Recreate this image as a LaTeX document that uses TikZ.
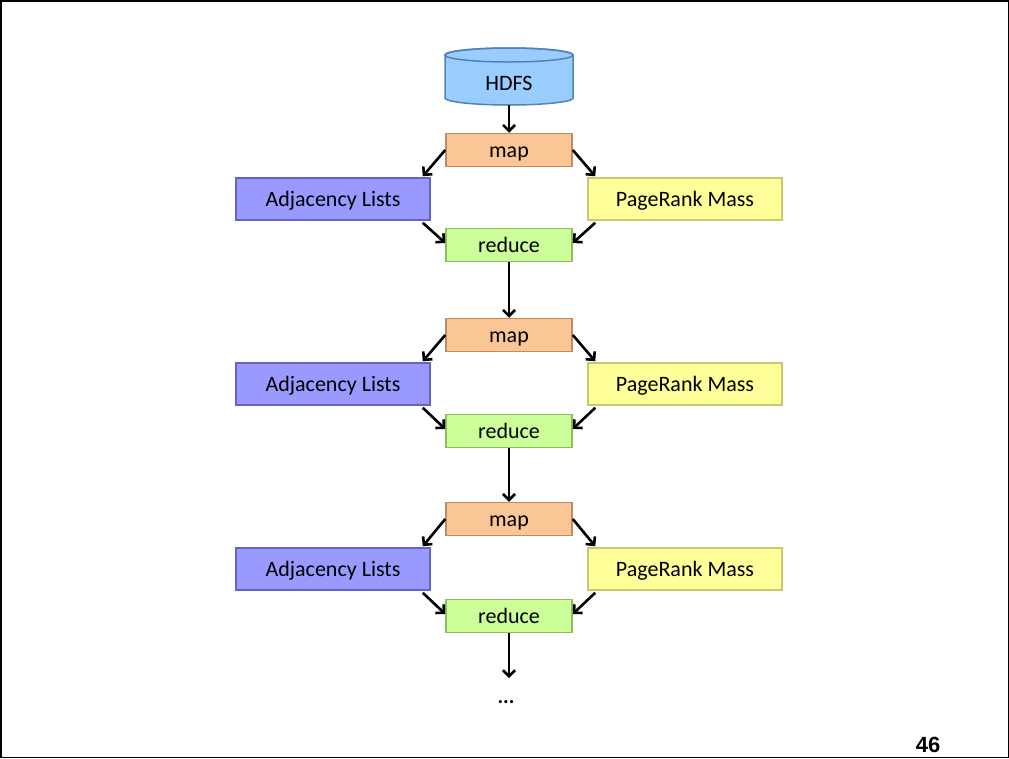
\documentclass[tikz,border=0pt]{standalone}
\usepackage{fontspec}
\setmainfont{Carlito}
\newfontfamily\numfont{Liberation Sans}
\usetikzlibrary{arrows.meta}
\definecolor{hdfsfill}{RGB}{153,204,255}
\definecolor{hdfsline}{RGB}{84,130,180}
\definecolor{mapfill}{RGB}{250,198,150}
\definecolor{mapline}{RGB}{190,140,100}
\definecolor{adjfill}{RGB}{153,153,255}
\definecolor{adjline}{RGB}{100,100,200}
\definecolor{prfill}{RGB}{255,255,153}
\definecolor{prline}{RGB}{200,200,110}
\definecolor{redfill}{RGB}{204,255,153}
\definecolor{redline}{RGB}{140,190,90}
\tikzset{
  label text/.style={font=\fontsize{22}{26}\selectfont, text height=14pt, text depth=0pt},
  box/.style={draw, line width=1.5pt, inner sep=0pt, label text},
  mapbox/.style={box, fill=mapfill, draw=mapline, minimum width=126pt, minimum height=33pt},
  redbox/.style={box, fill=redfill, draw=redline, minimum width=126pt, minimum height=33pt},
  adjbox/.style={box, fill=adjfill, draw=adjline, minimum width=194pt, minimum height=42pt},
  prbox/.style={box, fill=prfill, draw=prline, minimum width=194pt, minimum height=42pt},
  flow/.style={line width=2.6pt, -{Straight Barb[length=6pt,width=12pt,line width=2.6pt]}}
}
\begin{document}
\begin{tikzpicture}[x=1pt,y=-1pt]
\useasboundingbox (0,0) rectangle (1009,758);
\draw[line width=1.5pt] (0.75,0.75) rectangle (1008.25,757.25);

% HDFS cylinder
\filldraw[fill=hdfsfill, draw=hdfsline, line width=1.5pt]
  (445,55) -- (445,98) arc[start angle=180, end angle=0, x radius=64, y radius=7]
  -- (573,55) arc[start angle=0, end angle=-180, x radius=64, y radius=7] -- cycle;
\draw[hdfsline, line width=1.5pt] (509,55) ellipse[x radius=64, y radius=7];
\node[inner sep=0pt, minimum width=128pt, minimum height=44pt, label text]
  (hdfs) at (509,83) {HDFS};

% three map/reduce iterations
\foreach \i/\m/\s/\r in {1/150/199/245, 2/335/384/431, 3/519/569/616} {
  \node[mapbox] (map\i) at (509,\m) {map};
  \node[adjbox] (adj\i) at (333,\s) {Adjacency Lists};
  \node[prbox] (pr\i) at (685,\s) {PageRank Mass};
  \node[redbox] (red\i) at (509,\r) {reduce};
  \draw[flow] (map\i.west) -- ([xshift=-8pt,yshift=1pt]adj\i.north east);
  \draw[flow] (map\i.east) -- ([xshift=8pt,yshift=1pt]pr\i.north west);
  \draw[flow] ([xshift=-8pt,yshift=-2pt]adj\i.south east) -- ([yshift=2pt]red\i.west);
  \draw[flow] ([xshift=8pt,yshift=-2pt]pr\i.south west) -- ([yshift=2pt]red\i.east);
}

\coordinate (next) at (509,678);
\node[font=\fontsize{21}{24}\selectfont\bfseries, inner sep=0pt] (more) at (506,702) {...};

\draw[flow] (hdfs.south) -- (map1.north);
\draw[flow] (red1.south) -- (map2.north);
\draw[flow] (red2.south) -- (map3.north);
\draw[flow] (red3.south) -- (next);

\node[font=\numfont\bfseries\fontsize{22}{24}\selectfont] (page) at (928,745) {46};
\end{tikzpicture}
\end{document}
